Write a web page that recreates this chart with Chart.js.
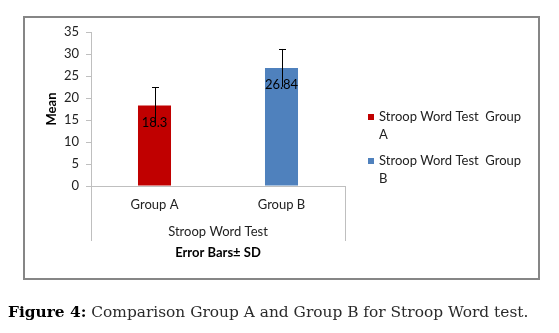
<!DOCTYPE html>
<html>
<head>
<meta charset="utf-8">
<script src="https://cdn.jsdelivr.net/npm/chart.js@4.4.0/dist/chart.umd.min.js"></script>
<style>
  html, body { margin: 0; padding: 0; background: #fff; }
  #wrap { position: relative; width: 559px; height: 333px; overflow: hidden; }
  #c { position: absolute; left: 0; top: 0; }
  #cap { position: absolute; left: 8px; top: 303px; font-family: "DejaVu Serif", serif; font-size: 15.4px; color: #2a2a2a; white-space: nowrap; }
  #cap b { color: #000; }
</style>
</head>
<body>
<div id="wrap">
  <canvas id="c" width="559" height="333"></canvas>
  <div id="cap"><b>Figure 4:</b> Comparison Group A and Group B for Stroop Word test.</div>
</div>
<script>
const categories = ['Group A', 'Group B'];
const means = [18.3, 26.84];
const sds = [4.2, 4.3];
const dataLabels = ['18.3', '26.84'];
const legendLabels = ['Stroop Word Test  Group A', 'Stroop Word Test  Group B'];
const barColors = ['#C00000', '#4F81BD'];
const yTitle = 'Mean';
const xTitle = 'Stroop Word Test';
const xSubTitle = 'Error Bars\u00B1 SD';

const FONT = 'Lato, "Open Sans", sans-serif';

const decor = {
  id: 'decor',
  beforeDraw(chart) {
    const ctx = chart.ctx;
    ctx.save();
    ctx.fillStyle = '#fff';
    ctx.fillRect(0, 0, chart.width, chart.height);
    ctx.strokeStyle = '#868686';
    ctx.lineWidth = 2;
    ctx.strokeRect(24, 17, 515, 262);
    ctx.restore();
  },
  afterDraw(chart) {
    const ctx = chart.ctx;
    const a = chart.chartArea;
    const xs = chart.scales.x, ys = chart.scales.y;
    ctx.save();
    // category group boundary lines
    ctx.strokeStyle = '#BFBFBF';
    ctx.lineWidth = 1;
    [a.left, a.right].forEach(x => {
      ctx.beginPath();
      ctx.moveTo(Math.round(x) + 0.5, a.bottom);
      ctx.lineTo(Math.round(x) + 0.5, a.bottom + 55);
      ctx.stroke();
    });
    // error bars
    ctx.strokeStyle = '#000';
    ctx.lineWidth = 1;
    means.forEach((m, i) => {
      const x = Math.round(xs.getPixelForValue(i)) + 0.5;
      const yt = ys.getPixelForValue(m + sds[i]);
      const yb = ys.getPixelForValue(m - sds[i]);
      ctx.beginPath();
      ctx.moveTo(x, yt); ctx.lineTo(x, yb);
      ctx.moveTo(x - 3.5, Math.round(yt) + 0.5); ctx.lineTo(x + 3.5, Math.round(yt) + 0.5);
      ctx.stroke();
    });
    // data labels
    ctx.fillStyle = '#000';
    ctx.font = '13px ' + FONT;
    ctx.textAlign = 'center';
    ctx.textBaseline = 'middle';
    means.forEach((m, i) => {
      const x = xs.getPixelForValue(i);
      const y = ys.getPixelForValue(m) + 17;
      ctx.fillText(dataLabels[i], x, y);
    });
    // axis titles
    const cx = (a.left + a.right) / 2;
    ctx.fillStyle = '#222';
    ctx.font = '13px ' + FONT;
    ctx.fillText(xTitle, cx, a.bottom + 46);
    ctx.fillStyle = '#000';
    ctx.font = 'bold 13px ' + FONT;
    ctx.fillText(xSubTitle, cx, a.bottom + 67);
    ctx.save();
    ctx.translate(52, (a.top + a.bottom) / 2 + 0);
    ctx.rotate(-Math.PI / 2);
    ctx.fillText(yTitle, 0, 0);
    ctx.restore();
    // legend
    ctx.textAlign = 'left';
    ctx.font = '13px ' + FONT;
    const maxW = 152;
    let y = 117;
    legendLabels.forEach((lab, i) => {
      const words = lab.split(' ');
      const lines = [];
      let cur = '';
      words.forEach(w => {
        const t = cur === '' ? w : cur + ' ' + w;
        if (ctx.measureText(t).width > maxW && cur.trim() !== '') { lines.push(cur); cur = w; }
        else cur = t;
      });
      lines.push(cur);
      ctx.fillStyle = barColors[i];
      ctx.fillRect(368, y - 3, 6, 6);
      ctx.fillStyle = '#222';
      lines.forEach((ln, k) => ctx.fillText(ln, 379, y + k * 18));
      y += lines.length * 18 + 8;
    });
    ctx.restore();
  }
};

function build() {
  new Chart(document.getElementById('c'), {
    type: 'bar',
    data: {
      labels: categories,
      datasets: [{
        data: means,
        backgroundColor: barColors,
        borderWidth: 0,
        barPercentage: 1,
        categoryPercentage: 0.26
      }]
    },
    options: {
      responsive: false,
      animation: false,
      devicePixelRatio: 1,
      layout: { padding: { left: 0, top: 32, right: 214, bottom: 107 } },
      plugins: { legend: { display: false }, tooltip: { enabled: false } },
      scales: {
        y: {
          min: 0, max: 35,
          ticks: { stepSize: 5, color: '#222', font: { family: FONT, size: 13 }, padding: 7 },
          grid: { drawOnChartArea: false, drawTicks: true, tickLength: 5, color: '#BFBFBF' },
          border: { display: true, color: '#BFBFBF' },
          afterFit(s) { s.width = 91; }
        },
        x: {
          ticks: { color: '#222', font: { family: FONT, size: 13 }, padding: 11 },
          grid: { display: false, drawTicks: false },
          border: { display: true, color: '#BFBFBF' },
          afterFit(s) { s.height = 40; }
        }
      }
    },
    plugins: [decor]
  });
}
Promise.all([
  document.fonts.load('13px Lato'),
  document.fonts.load('bold 13px Lato')
]).then(build, build);
</script>
</body>
</html>
